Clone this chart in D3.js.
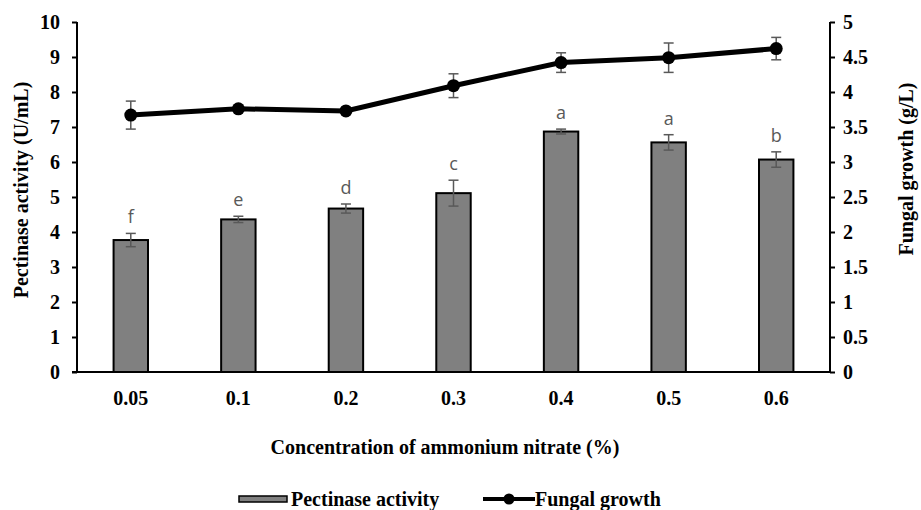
<!DOCTYPE html>
<html>
<head>
<meta charset="utf-8">
<script src="https://cdn.jsdelivr.net/npm/d3@7"></script>
<style>
  body { margin: 0; background: #fff; }
  svg text { font-family: 'Liberation Serif', 'Times New Roman', serif; }
</style>
</head>
<body>
<div id="main"></div>
<script>
const concentrations = ['0.05', '0.1', '0.2', '0.3', '0.4', '0.5', '0.6'];
const pectinase = [3.77, 4.36, 4.67, 5.11, 6.87, 6.56, 6.07];
const pectinaseErr = [0.19, 0.09, 0.13, 0.37, 0.07, 0.22, 0.22];
const letters = ['f', 'e', 'd', 'c', 'a', 'a', 'b'];
const growth = [3.67, 3.76, 3.73, 4.09, 4.42, 4.49, 4.62];
const growthErr = [0.2, 0.03, 0.02, 0.17, 0.14, 0.21, 0.16];
const leftTicks = d3.range(0, 11, 1);
const rightTicks = d3.range(0, 5.01, 0.5);

const width = 921;
const height = 510;
const margin = { top: 22, right: 91, bottom: 138, left: 77 };

const svg = d3.select('#main')
  .append('svg')
  .attr('width', width)
  .attr('height', height);

const x = d3.scaleBand()
  .domain(concentrations)
  .range([margin.left, width - margin.right])
  .paddingInner(0.68)
  .paddingOuter(0.34);

const yL = d3.scaleLinear().domain([0, 10]).range([height - margin.bottom, margin.top]);
const yR = d3.scaleLinear().domain([0, 5]).range([height - margin.bottom, margin.top]);

const bold = (sel) => sel.style('font-weight', 'bold').style('font-size', '20px').attr('fill', '#000');

// left axis
const gL = svg.append('g')
  .attr('transform', `translate(${margin.left},0)`)
  .call(d3.axisLeft(yL).tickValues(leftTicks).tickSize(5).tickPadding(12).tickFormat(d3.format('d')));
gL.selectAll('path, line').attr('stroke', '#000').attr('stroke-width', 2);
gL.select('.domain').attr('d', `M0,${yL(10)}V${yL(0)}`);
gL.selectAll('text').call(bold);

// right axis
const gR = svg.append('g')
  .attr('transform', `translate(${width - margin.right},0)`)
  .call(d3.axisRight(yR).tickValues(rightTicks).tickSize(5).tickPadding(8).tickFormat((d) => d3.format('~g')(d)));
gR.selectAll('path, line').attr('stroke', '#000').attr('stroke-width', 2);
gR.select('.domain').attr('d', `M0,${yR(5)}V${yR(0)}`);
gR.selectAll('text').call(bold);

// bars
svg.selectAll('.bar')
  .data(pectinase)
  .enter()
  .append('rect')
  .attr('class', 'bar')
  .attr('x', (d, i) => x(concentrations[i]))
  .attr('y', (d) => yL(d))
  .attr('width', x.bandwidth())
  .attr('height', (d) => yL(0) - yL(d))
  .attr('fill', '#808080')
  .attr('stroke', '#000')
  .attr('stroke-width', 2);

// x axis baseline
svg.append('line')
  .attr('x1', margin.left - 5)
  .attr('x2', width - margin.right)
  .attr('y1', yL(0))
  .attr('y2', yL(0))
  .attr('stroke', '#000')
  .attr('stroke-width', 2);

const cx = (i) => x(concentrations[i]) + x.bandwidth() / 2;

function errorBars(vals, errs, scale, cls) {
  const g = svg.append('g').attr('class', cls);
  vals.forEach((v, i) => {
    const x0 = cx(i);
    const top = scale(v + errs[i]);
    const bot = scale(v - errs[i]);
    g.append('line').attr('x1', x0).attr('x2', x0).attr('y1', top).attr('y2', bot);
    g.append('line').attr('x1', x0 - 5).attr('x2', x0 + 5).attr('y1', top).attr('y2', top);
    g.append('line').attr('x1', x0 - 5).attr('x2', x0 + 5).attr('y1', bot).attr('y2', bot);
  });
  g.selectAll('line').attr('stroke', '#595959').attr('stroke-width', 1.5);
}

errorBars(pectinase, pectinaseErr, yL, 'err-bar');

// significance letters
svg.selectAll('.letter')
  .data(letters)
  .enter()
  .append('text')
  .attr('class', 'letter')
  .attr('x', (d, i) => cx(i))
  .attr('y', (d, i) => yL(pectinase[i] + pectinaseErr[i]) - 10)
  .attr('text-anchor', 'middle')
  .style('font-family', "'Open Sans', 'Liberation Sans', sans-serif")
  .style('font-size', '18px')
  .attr('fill', '#595959')
  .text((d) => d);

// growth line
errorBars(growth, growthErr, yR, 'err-line');

svg.append('path')
  .datum(growth)
  .attr('fill', 'none')
  .attr('stroke', '#000')
  .attr('stroke-width', 5)
  .attr('d', d3.line().x((d, i) => cx(i)).y((d) => yR(d)));

svg.selectAll('.dot')
  .data(growth)
  .enter()
  .append('circle')
  .attr('class', 'dot')
  .attr('cx', (d, i) => cx(i))
  .attr('cy', (d) => yR(d))
  .attr('r', 6.5)
  .attr('fill', '#000');

// x tick labels
svg.selectAll('.xlab')
  .data(concentrations)
  .enter()
  .append('text')
  .attr('class', 'xlab')
  .attr('x', (d, i) => cx(i))
  .attr('y', 405)
  .attr('text-anchor', 'middle')
  .call(bold)
  .text((d) => d);

// axis titles
svg.append('text')
  .attr('x', 445)
  .attr('y', 454)
  .attr('text-anchor', 'middle')
  .call(bold)
  .text('Concentration of ammonium nitrate (%)');

svg.append('text')
  .attr('transform', `translate(28,190) rotate(-90)`)
  .attr('text-anchor', 'middle')
  .call(bold)
  .text('Pectinase activity (U/mL)');

svg.append('text')
  .attr('transform', `translate(913,169) rotate(-90)`)
  .attr('text-anchor', 'middle')
  .call(bold)
  .text('Fungal growth (g/L)');

// legend
const lg = svg.append('g').attr('transform', 'translate(0,499)');
lg.append('rect')
  .attr('x', 239).attr('y', -3).attr('width', 48).attr('height', 6)
  .attr('fill', '#808080').attr('stroke', '#000').attr('stroke-width', 1.5);
lg.append('text').attr('x', 291).attr('y', 7).call(bold).text('Pectinase activity');
lg.append('line')
  .attr('x1', 483).attr('x2', 535).attr('y1', 0).attr('y2', 0)
  .attr('stroke', '#000').attr('stroke-width', 4);
lg.append('circle').attr('cx', 509).attr('cy', 0).attr('r', 5.5).attr('fill', '#000');
lg.append('text').attr('x', 535).attr('y', 7).call(bold).text('Fungal growth');
</script>
</body>
</html>
